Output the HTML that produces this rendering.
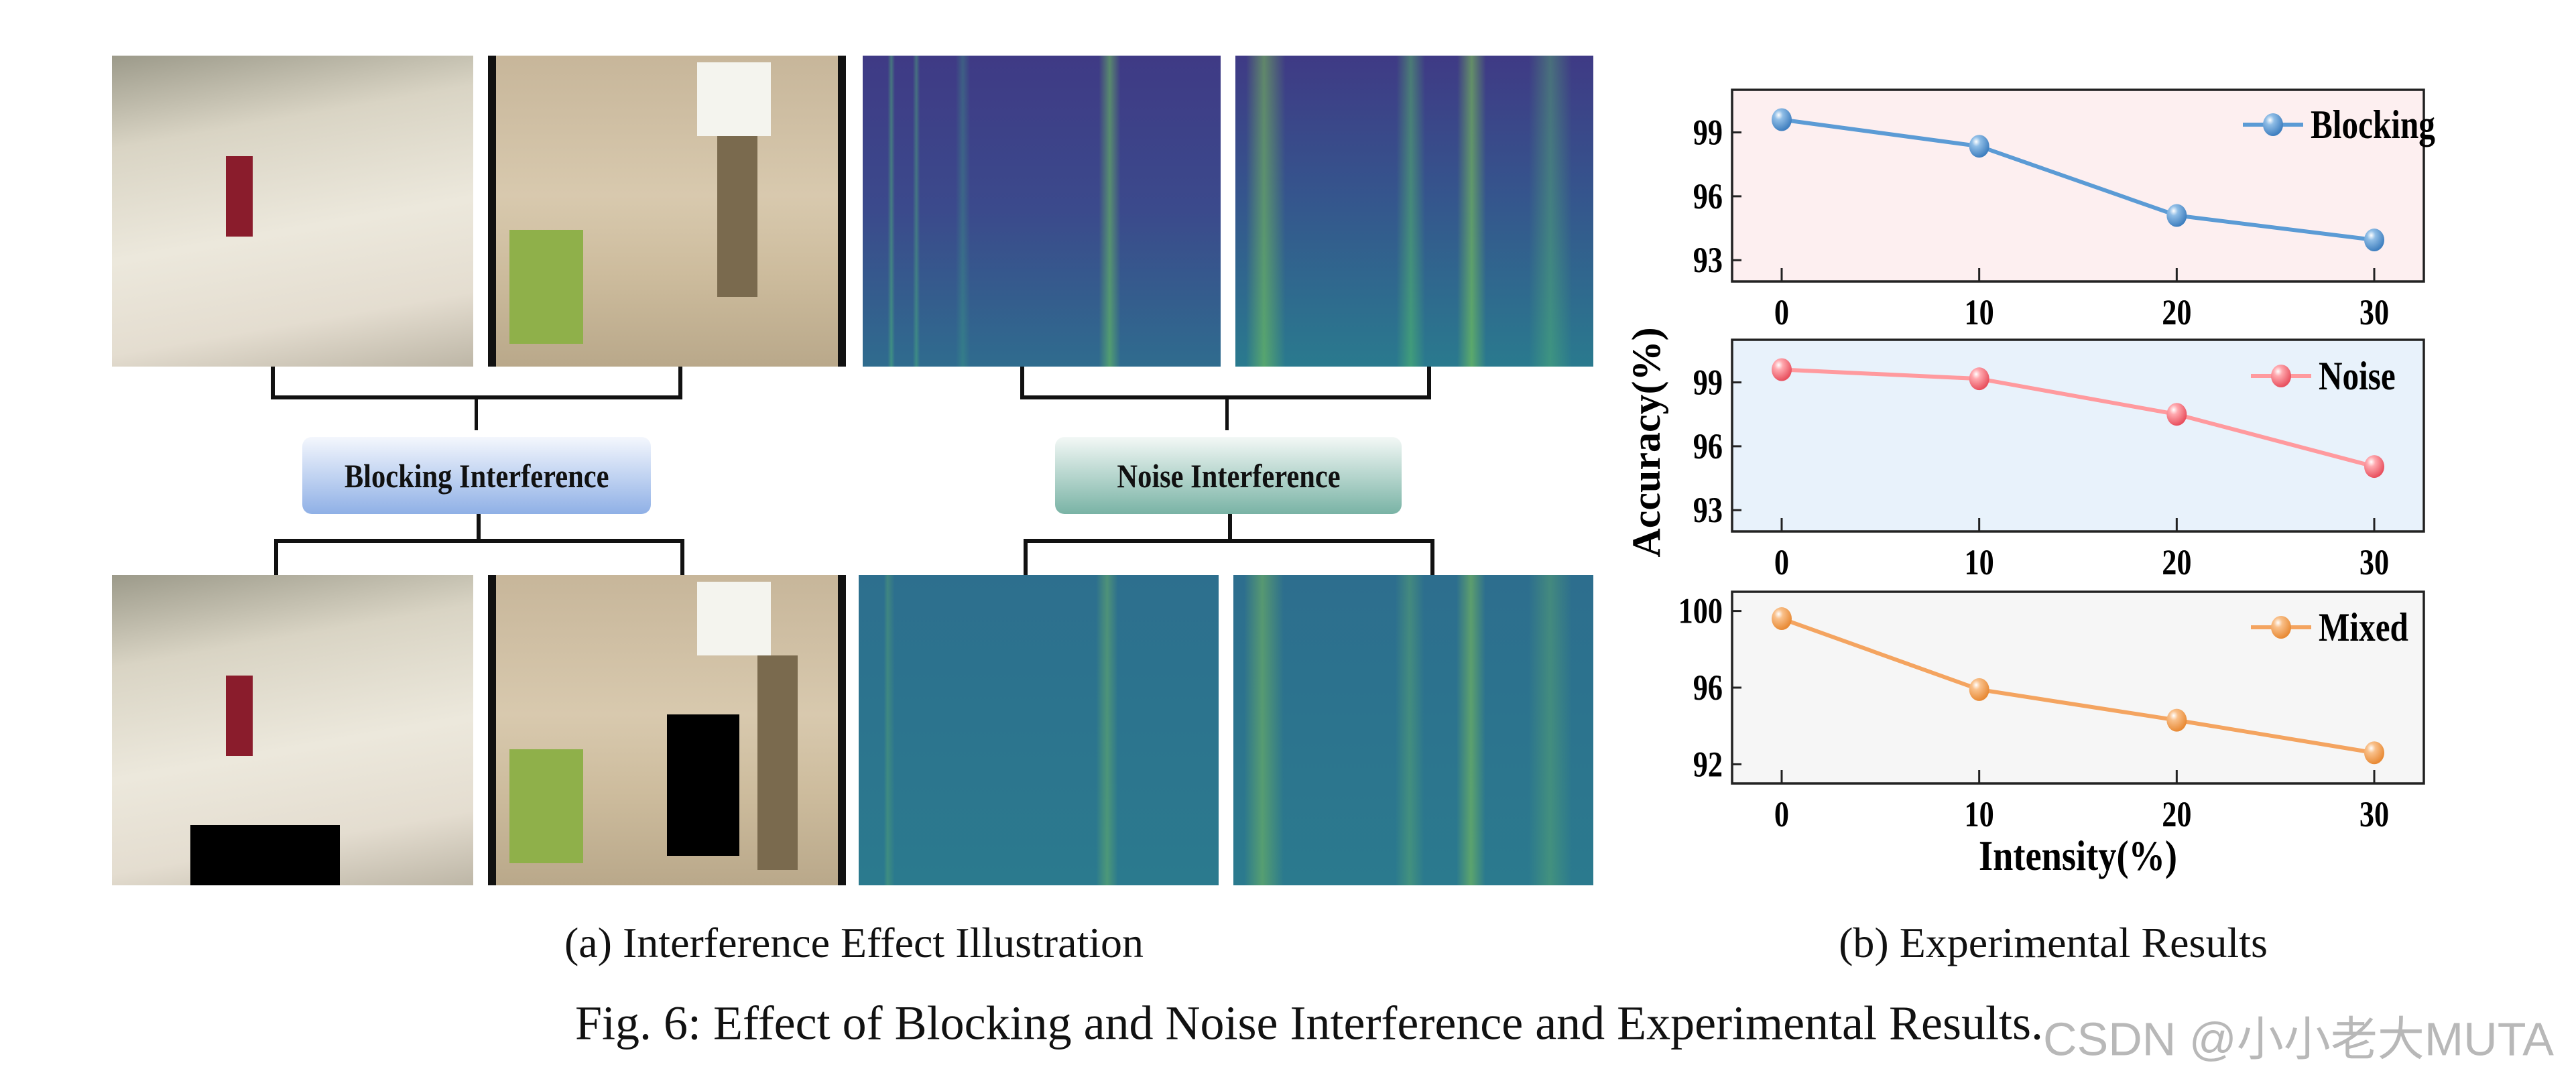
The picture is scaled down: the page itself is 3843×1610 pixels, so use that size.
<!DOCTYPE html>
<html><head><meta charset="utf-8"><style>
body{margin:0;background:#fff;}
#root{position:relative;width:3843px;height:1610px;background:#fff;overflow:hidden;font-family:"Liberation Serif",serif;}
.abs{position:absolute;}
.photoA{background:linear-gradient(170deg,#9c9a8a 0%,#d9d4c4 25%,#ece8dc 55%,#e4ddd0 80%,#bdb6a6 100%);}
.photoB{background:linear-gradient(180deg,#c7b69a 0%,#d8c9ae 45%,#cdbc9d 70%,#b9a88a 100%);border-left:12px solid #111;border-right:12px solid #111;box-sizing:border-box;}
.specT{background:
 linear-gradient(90deg,transparent 7%,rgba(80,190,120,.45) 8%,transparent 9%,transparent 14%,rgba(80,190,120,.4) 15%,transparent 16%,transparent 26%,rgba(60,160,130,.35) 28%,transparent 30%,transparent 66%,rgba(110,200,90,.55) 69%,transparent 72%),
 linear-gradient(180deg,#3f3a85 0%,#3b4a8c 50%,#2f6c8e 100%);}
.specT2{background:
 linear-gradient(90deg,transparent 3%,rgba(130,210,80,.5) 8%,transparent 14%,transparent 45%,rgba(90,200,100,.45) 49%,transparent 53%,transparent 62%,rgba(130,210,80,.55) 66%,transparent 70%,transparent 82%,rgba(90,190,110,.4) 88%,transparent 94%),
 linear-gradient(180deg,#3f3a85 0%,#35558d 45%,#2a7a8e 100%);}
.specB{background:
 linear-gradient(90deg,transparent 7%,rgba(120,200,90,.25) 8%,transparent 10%,transparent 66%,rgba(140,210,80,.35) 69%,transparent 72%),
 linear-gradient(180deg,#2d6f8e 0%,#2b7a8e 100%);}
.specB2{background:
 linear-gradient(90deg,transparent 3%,rgba(150,215,70,.4) 8%,transparent 14%,transparent 45%,rgba(120,200,90,.3) 49%,transparent 53%,transparent 62%,rgba(150,215,70,.45) 66%,transparent 70%,transparent 82%,rgba(120,200,90,.3) 88%,transparent 94%),
 linear-gradient(180deg,#2d6e8e 0%,#2b7a8e 100%);}
.line{position:absolute;background:#111;}
.box{position:absolute;border-radius:14px;font-weight:bold;font-size:50px;display:flex;align-items:center;justify-content:center;color:#111;}
.box span{display:inline-block;transform:scaleX(.85);white-space:nowrap;}
.cap{position:absolute;font-size:64px;color:#111;white-space:nowrap;}
</style></head><body>
<div id="root">
<div class="abs photoA" style="left:167px;top:83px;width:539px;height:464px">
 <div class="abs" style="left:170px;top:150px;width:40px;height:120px;background:#8a1c2c"></div>
</div>
<div class="abs photoB" style="left:728px;top:83px;width:534px;height:464px">
 <div class="abs" style="left:300px;top:10px;width:110px;height:110px;background:#f4f4ee"></div>
 <div class="abs" style="left:20px;top:260px;width:110px;height:170px;background:#8fb04a"></div>
 <div class="abs" style="left:330px;top:120px;width:60px;height:240px;background:#7a6a4e"></div>
</div>
<div class="abs specT" style="left:1287px;top:83px;width:534px;height:464px"></div>
<div class="abs specT2" style="left:1843px;top:83px;width:534px;height:464px"></div>

<div class="abs photoA" style="left:167px;top:858px;width:539px;height:463px">
 <div class="abs" style="left:170px;top:150px;width:40px;height:120px;background:#8a1c2c"></div>
 <div class="abs" style="left:117px;top:373px;width:223px;height:90px;background:#000"></div>
</div>
<div class="abs photoB" style="left:728px;top:858px;width:534px;height:463px">
 <div class="abs" style="left:300px;top:10px;width:110px;height:110px;background:#f4f4ee"></div>
 <div class="abs" style="left:20px;top:260px;width:110px;height:170px;background:#8fb04a"></div>
 <div class="abs" style="left:390px;top:120px;width:60px;height:320px;background:#7a6a4e"></div>
 <div class="abs" style="left:255px;top:208px;width:108px;height:211px;background:#000"></div>
</div>
<div class="abs specB" style="left:1281px;top:858px;width:537px;height:463px"></div>
<div class="abs specB2" style="left:1840px;top:858px;width:537px;height:463px"></div>

<div class="line" style="left:404px;top:547px;width:6px;height:48px"></div>
<div class="line" style="left:1012px;top:547px;width:6px;height:48px"></div>
<div class="line" style="left:404px;top:590px;width:614px;height:6px"></div>
<div class="line" style="left:708px;top:590px;width:5px;height:52px"></div>
<div class="box" style="left:451px;top:652px;width:520px;height:115px;background:linear-gradient(180deg,#f4f7fd,#8fb0e6)"><span>Blocking Interference</span></div>
<div class="line" style="left:711px;top:767px;width:6px;height:42px"></div>
<div class="line" style="left:409px;top:804px;width:612px;height:6px"></div>
<div class="line" style="left:409px;top:804px;width:6px;height:54px"></div>
<div class="line" style="left:1015px;top:804px;width:6px;height:54px"></div>
<div class="line" style="left:1522px;top:547px;width:6px;height:48px"></div>
<div class="line" style="left:2129px;top:547px;width:6px;height:48px"></div>
<div class="line" style="left:1522px;top:590px;width:613px;height:6px"></div>
<div class="line" style="left:1828px;top:590px;width:5px;height:52px"></div>
<div class="box" style="left:1574px;top:652px;width:517px;height:115px;background:linear-gradient(180deg,#f3f8f6,#79b3a5)"><span>Noise Interference</span></div>
<div class="line" style="left:1832px;top:767px;width:6px;height:42px"></div>
<div class="line" style="left:1527px;top:804px;width:613px;height:6px"></div>
<div class="line" style="left:1527px;top:804px;width:6px;height:54px"></div>
<div class="line" style="left:2134px;top:804px;width:6px;height:54px"></div>

<div class="cap" style="left:1274px;top:1407px;transform:translate(-50%,-50%)">(a) Interference Effect Illustration</div>
<div class="cap" style="left:3063px;top:1407px;transform:translate(-50%,-50%)">(b) Experimental Results</div>
<div class="cap" style="left:858px;top:1527px;transform:translateY(-50%);font-size:72px">Fig. 6: Effect of Blocking and Noise Interference and Experimental Results.</div>
<div class="cap" style="left:3048px;top:1545px;transform:translateY(-50%);font-family:'Liberation Sans','Noto Sans CJK SC',sans-serif;font-size:70px;color:#b8b8b8">CSDN @小小老大MUTA</div>

<svg id="chart" class="abs" style="left:0;top:0" width="3843" height="1610">
<defs>
<radialGradient id="gb" cx="35%" cy="30%" r="70%"><stop offset="0" stop-color="#fff"/><stop offset=".3" stop-color="#8fbde6"/><stop offset="1" stop-color="#3f7fbf"/></radialGradient>
<radialGradient id="gp" cx="35%" cy="30%" r="70%"><stop offset="0" stop-color="#fff"/><stop offset=".3" stop-color="#ffa8ae"/><stop offset="1" stop-color="#e8505e"/></radialGradient>
<radialGradient id="go" cx="35%" cy="30%" r="70%"><stop offset="0" stop-color="#fff"/><stop offset=".3" stop-color="#f9c08a"/><stop offset="1" stop-color="#e88a35"/></radialGradient>
</defs>
</svg>
</div>
<script>
const xCats=[0,10,20,30];
const blocking=[99.6,98.35,95.1,93.95];
const noise=[99.6,99.17,97.5,95.05];
const mixed=[99.6,95.9,94.3,92.6];
const ticks12=[93,96,99];
const ticks3=[92,96,100];
const names=["Blocking","Noise","Mixed"];

const svg=document.getElementById('chart');
const NS='http://www.w3.org/2000/svg';
function mk(t,a,p){const e=document.createElementNS(NS,t);for(const k in a)e.setAttribute(k,a[k]);(p||svg).appendChild(e);return e;}
const L=2584,R=3616;
const xs=v=>2658+(v-0)/30*(3542-2658);
const FONT='Liberation Serif, serif';
const panels=[
 {top:134,bot:420,min:92,max:101,data:blocking,ticks:ticks12,bg:'#fdeff0',col:'#5b9bd5',grad:'gb',name:names[0],ly:186,lx:3346},
 {top:507,bot:793,min:92,max:101,data:noise,ticks:ticks12,bg:'#e8f2fb',col:'#ff9a9e',grad:'gp',name:names[1],ly:561,lx:3358},
 {top:883,bot:1169,min:91,max:101,data:mixed,ticks:ticks3,bg:'#f6f6f6',col:'#f4a460',grad:'go',name:names[2],ly:936,lx:3358}
];
function ctext(parent,x,y,anchor,size,str){
 const t=mk('text',{x:0,y:0,'text-anchor':anchor,'font-size':size,'font-weight':'bold','font-family':FONT,transform:'translate('+x+','+y+') scale(0.82,1)'},parent);
 t.textContent=str;return t;
}
panels.forEach((p,i)=>{
 const ys=v=>p.bot-(v-p.min)/(p.max-p.min)*(p.bot-p.top);
 const g=mk('g',{});
 
 
 mk('rect',{x:L,y:p.top,width:R-L,height:p.bot-p.top,fill:p.bg,stroke:'#222','stroke-width':3.5},g);
 p.ticks.forEach(t=>{
  mk('line',{x1:L,x2:L+14,y1:ys(t),y2:ys(t),stroke:'#222','stroke-width':3},g);
  const tx=ctext(g,L-14,ys(t)+18,'end',54,t);
  
  
 });
 xCats.forEach(c=>{
  mk('line',{x1:xs(c),x2:xs(c),y1:p.bot,y2:p.bot-20,stroke:'#222','stroke-width':3},g);
  const tx=ctext(g,xs(c),p.bot+64,'middle',54,c);
  
  
 });
 const pl=mk('polyline',{points:p.data.map((v,j)=>xs(xCats[j])+','+ys(v)).join(' '),fill:'none',stroke:p.col,'stroke-width':6},g);
 
 
 p.data.forEach((v,j)=>{
  const c=mk('ellipse',{cx:xs(xCats[j]),cy:ys(v),rx:15,ry:17,fill:'url(#'+p.grad+')'},g);
  
  
 });
 const lg=mk('g',{},g);
 
 
 mk('line',{x1:p.lx,x2:p.lx+90,y1:p.ly,y2:p.ly,stroke:p.col,'stroke-width':6},lg);
 mk('ellipse',{cx:p.lx+45,cy:p.ly,rx:15,ry:17,fill:'url(#'+p.grad+')'},lg);
 ctext(lg,p.lx+101,p.ly+20,'start',60,p.name);
});
const yt=mk('text',{x:0,y:0,'text-anchor':'middle','font-size':60,'font-weight':'bold','font-family':FONT,transform:'translate(2476,660) rotate(-90)'});
yt.textContent='Accuracy(%)';


const xt=mk('text',{x:0,y:0,'text-anchor':'middle','font-size':64,'font-weight':'bold','font-family':FONT,transform:'translate(3100,1298) scale(0.85,1)'});
xt.textContent='Intensity(%)';


</script>
</body></html>
